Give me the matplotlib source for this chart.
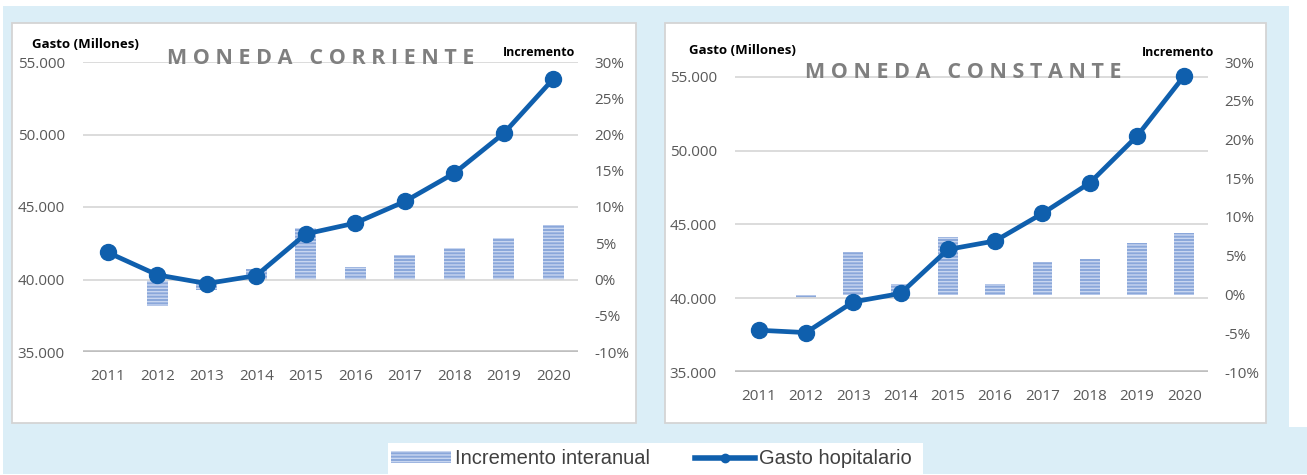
import matplotlib
matplotlib.use("Agg")
import matplotlib.pyplot as plt
import numpy as np
from matplotlib.patches import Rectangle
from matplotlib.lines import Line2D
from matplotlib.ticker import FuncFormatter, MultipleLocator

# data
years = [2011, 2012, 2013, 2014, 2015, 2016, 2017, 2018, 2019, 2020]
gasto_corriente = [41870, 40320, 39720, 40270, 43140, 43890, 45380, 47330, 50080, 53830]
incr_corriente = [np.nan, -3.7, -1.5, 1.4, 7.1, 1.7, 3.4, 4.3, 5.7, 7.5]
gasto_constante = [37830, 37670, 39750, 40320, 43300, 43880, 45740, 47810, 50980, 55070]
incr_constante = [np.nan, -0.4, 5.5, 1.4, 7.4, 1.3, 4.2, 4.6, 6.6, 8.0]

W, H = 1307, 475
BG = "#dbeef7"
LINE = "#0f5fad"
BAR = "#8aa7da"
STRIPE = "#c8d6f0"
TICK = "#595959"
GRID = "#d9d9d9"


def fx(px):
    return px / W


def fy(py):
    return 1 - py / H


fig = plt.figure(figsize=(W / 100, H / 100), dpi=100, facecolor="white")


def add_box(x0, y0, x1, y1, **kw):
    fig.patches.append(Rectangle((fx(x0), fy(y1)), fx(x1) - fx(x0), fy(y0) - fy(y1),
                                 transform=fig.transFigure, zorder=-1, **kw))


# background blocks
add_box(3, 6, 1289, 427, facecolor=BG, edgecolor="none")
add_box(3, 427, 1307, 474, facecolor=BG, edgecolor="none")
add_box(12.5, 22.5, 636, 423, facecolor="white", edgecolor="#d4d4d4", linewidth=1.3)
add_box(665, 22.5, 1266, 423, facecolor="white", edgecolor="#d4d4d4", linewidth=1.3)
add_box(388, 443, 923, 474, facecolor="white", edgecolor="none")


def draw_panel(rect, gasto, incr, ymax, title, title_xy, gasto_xy, incr_xy):
    ax = fig.add_axes(rect)
    ax2 = ax.twinx()
    ax.set_zorder(ax2.get_zorder() + 1)
    ax.patch.set_visible(False)

    ax2.bar(years, incr, width=0.42, color=BAR, edgecolor=STRIPE, linewidth=0, hatch="-----")
    ax.plot(years, gasto, color=LINE, linewidth=3.4, marker="o", markersize=11.5,
            solid_capstyle="round", zorder=5)

    ax.set_xlim(2010.5, 2020.5)
    ax.set_ylim(35000, ymax)
    ax2.set_ylim(-10, 30)
    ax.yaxis.set_major_locator(MultipleLocator(5000))
    ax2.yaxis.set_major_locator(MultipleLocator(5))
    ax.yaxis.set_major_formatter(FuncFormatter(lambda v, p: f"{int(v):,}".replace(",", ".")))
    ax2.yaxis.set_major_formatter(FuncFormatter(lambda v, p: f"{int(round(v))}%"))
    ax.set_xticks(years)

    for a in (ax, ax2):
        for s in a.spines.values():
            s.set_visible(False)
        a.tick_params(length=0, colors=TICK, labelsize=11)
    ax.tick_params(axis="y", pad=13)
    ax2.tick_params(axis="y", pad=12)
    ax.tick_params(axis="x", pad=12)
    for lab in ax.get_xticklabels() + ax.get_yticklabels() + ax2.get_yticklabels():
        lab.set_fontfamily("Open Sans")

    for v in range(40000, 55001, 5000):
        ax.axhline(v, color=GRID, linewidth=1.3, zorder=0)
    ax.axhline(35000, color="#bfbfbf", linewidth=2.6, zorder=0)

    fig.text(fx(title_xy[0]), fy(title_xy[1]), title, ha="center", va="center",
             fontsize=15.5, fontweight="bold", color="#7f7f7f", family="Open Sans")
    fig.text(fx(gasto_xy[0]), fy(gasto_xy[1]), "Gasto (Millones)", ha="left", va="center",
             fontsize=9.5, fontweight="bold", color="black", family="Open Sans")
    fig.text(fx(incr_xy[0]), fy(incr_xy[1]), "Incremento", ha="right", va="center",
             fontsize=9, fontweight="bold", color="black", family="Open Sans")
    return ax, ax2


draw_panel([fx(83), fy(352), fx(578) - fx(83), fy(62) - fy(352)],
           gasto_corriente, incr_corriente, 55000,
           "M O N E D A   C O R R I E N T E", (321, 59), (32, 44), (575, 52))
draw_panel([fx(735), fy(372), fx(1208) - fx(735), fy(62) - fy(372)],
           gasto_constante, incr_constante, 56000,
           "M O N E D A   C O N S T A N T E", (963, 73), (689, 50), (1214, 52))

handles = [
    Rectangle((0, 0), 1, 1, facecolor=BAR, edgecolor=STRIPE, linewidth=0, hatch="-----"),
    Line2D([], [], color=LINE, linewidth=4, marker="o", markersize=6),
]
fig.legend(handles, ["Incremento interanual", "Gasto hopitalario"], loc="center left",
           bbox_to_anchor=(fx(391), fy(459)), ncol=2, frameon=False, borderpad=0,
           borderaxespad=0,
           prop={"family": "Liberation Sans", "size": 14.5}, labelcolor="#404040",
           handlelength=3.0, handletextpad=0.2, columnspacing=2.2, handleheight=0.55)

fig.savefig("out.png", dpi=100, facecolor="white")
